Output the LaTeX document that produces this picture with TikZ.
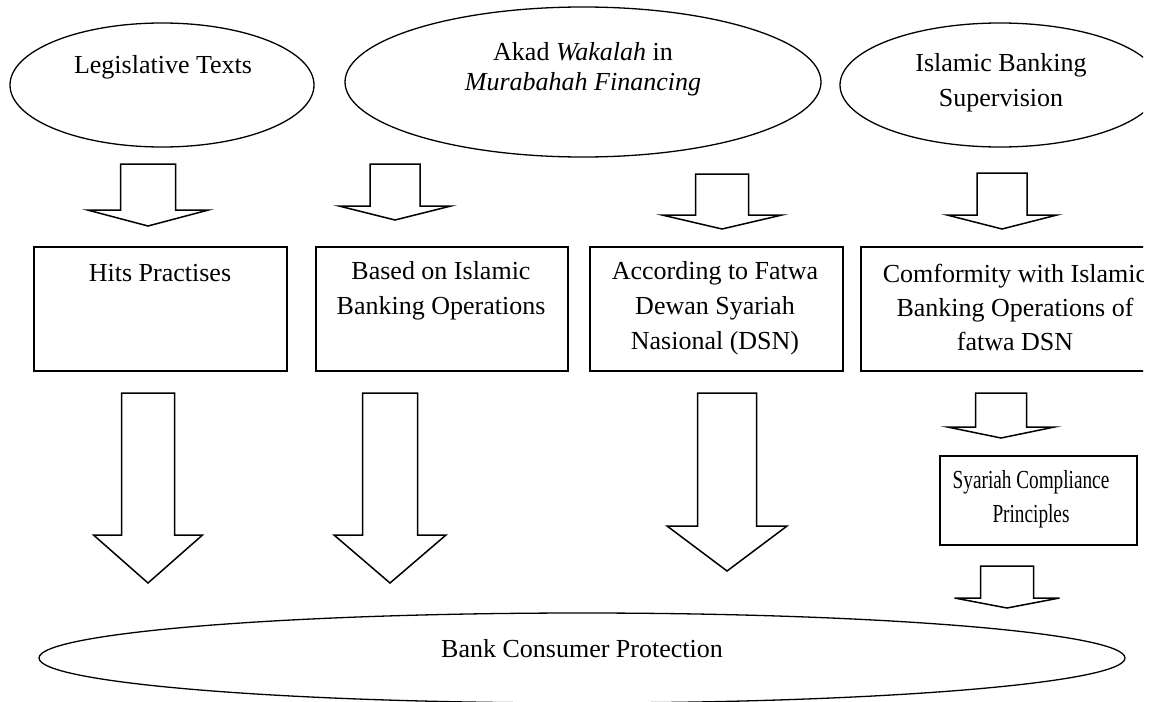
\documentclass[tikz,border=0pt]{standalone}
\usepackage{fontspec}
\setmainfont{Liberation Serif}
\usetikzlibrary{shapes.geometric}

\tikzset{
  oval/.style={draw, ellipse, line width=1.3pt, inner sep=0pt},
  box/.style={draw, rectangle, line width=1.5pt, inner sep=0pt, anchor=north west},
  blk/.style={line width=1.5pt, line join=miter, fill=white},
  txt/.style={align=center, inner sep=0pt, font=\fontsize{26}{35}\selectfont},
}
% block arrow: centre x, top, half shaft, half head, head base, tip
\newcommand{\blockarrow}[6]{%
  \draw[blk] (#1-#3,#2) -- (#1+#3,#2) -- (#1+#3,#5) -- (#1+#4,#5) -- (#1,#6) -- (#1-#4,#5) -- (#1-#3,#5) -- cycle;}

\begin{document}
\begin{tikzpicture}[x=1pt,y=-1pt]
\useasboundingbox (0,0) rectangle (1153,701);
\clip (0,-5) rectangle (1143,706);

% top ovals
\node[oval, minimum width=304pt, minimum height=124pt] (legis) at (162,85) {};
\node[oval, minimum width=476pt, minimum height=150pt] (akad) at (583,82) {};
\node[oval, minimum width=320pt, minimum height=124pt] (superv) at (1000,85) {};
\node[txt] (legist) at (163,67) {Legislative Texts};
\node[txt, font=\fontsize{26}{30}\selectfont] (akadt) at (583,69) {Akad \textit{Wakalah} in\\\textit{Murabahah Financing}};
\node[txt] (supervt) at (1001,83) {Islamic Banking\\Supervision};

% first row of arrows
\blockarrow{148}{164}{27.5}{60.5}{210}{226}
\blockarrow{395}{164}{25}{56}{206}{220}
\blockarrow{722}{174}{26.5}{60}{215}{229}
\blockarrow{1002}{173}{25}{55}{215}{229}

% boxes
\node[box, minimum width=253pt, minimum height=124pt] (hits) at (33,246) {};
\node[box, minimum width=252pt, minimum height=124pt] (based) at (315,246) {};
\node[box, minimum width=253pt, minimum height=124pt] (fatwa) at (589,246) {};
\node[box, minimum width=310pt, minimum height=124pt] (conform) at (860,246) {};
\node[txt] (hitst) at (160,273) {Hits Practises};
\node[txt] (basedt) at (441,291) {Based on Islamic\\Banking Operations};
\node[txt] (fatwat) at (715,308) {According to Fatwa\\Dewan Syariah\\Nasional (DSN)};
\node[txt, font=\fontsize{26}{34}\selectfont] (conformt) at (1015,307) {Comformity with Islamic\\Banking Operations of\\fatwa DSN};

% second row of arrows
\blockarrow{148}{393}{26.5}{54.5}{535}{583}
\blockarrow{390}{393}{27.5}{56}{535}{583}
\blockarrow{727}{393}{29.5}{60}{526}{571}
\blockarrow{1001}{393}{25.5}{53.5}{427}{438}

\node[box, minimum width=197pt, minimum height=89pt] (syariah) at (939,455) {};
\node[txt, font=\fontsize{26}{34}\selectfont, xscale=0.74, transform shape] (syariaht) at (1031,499) {Syariah Compliance\\Principles};
\blockarrow{1007}{566}{26.5}{52.5}{598}{608}

% bottom oval
\node[oval, minimum width=1086pt, minimum height=90pt] (protect) at (582,658) {};
\node[txt] (protectt) at (582,649) {Bank Consumer Protection};
\end{tikzpicture}
\end{document}
